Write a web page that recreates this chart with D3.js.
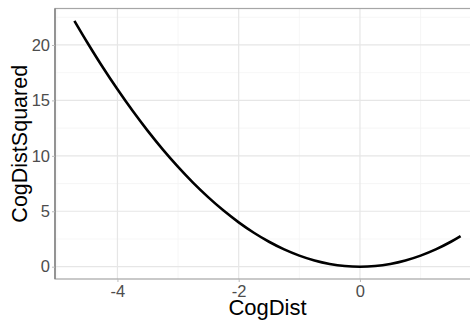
<!DOCTYPE html>
<html>
<head>
<meta charset="utf-8">
<script src="https://cdn.jsdelivr.net/npm/d3@7"></script>
<style>
  body { margin: 0; background: #fff; }
  svg { display: block; font-family: "Liberation Sans", Arial, sans-serif; }
</style>
</head>
<body>
<script>
// values
const cogDist = [-4.71, -4.5, -4.25, -4, -3.75, -3.5, -3.25, -3, -2.75, -2.5, -2.25, -2,
  -1.75, -1.5, -1.25, -1, -0.75, -0.5, -0.25, 0, 0.25, 0.5, 0.75, 1, 1.25, 1.5, 1.66];
const cogDistSquared = [22.18, 20.25, 18.06, 16, 14.06, 12.25, 10.56, 9, 7.56, 6.25, 5.06, 4,
  3.06, 2.25, 1.56, 1, 0.56, 0.25, 0.06, 0, 0.06, 0.25, 0.56, 1, 1.56, 2.25, 2.76];
const xTicks = [-4, -2, 0];
const xMinor = [-5, -3, -1, 1];
const yTicks = [0, 5, 10, 15, 20];
const yMinor = [2.5, 7.5, 12.5, 17.5, 22.5];

const W = 470, H = 320,
      panel = {left: 55, right: 480, top: 8.5, bottom: 279};

const svg = d3.select("body").append("svg")
  .attr("width", W)
  .attr("height", H);

const x = d3.scaleLinear().domain([-5.03, 1.98]).range([panel.left, panel.right]),
      y = d3.scaleLinear().domain([-1.11, 23.29]).range([panel.bottom, panel.top]);

svg.append("defs").append("clipPath").attr("id", "clip")
  .append("rect")
  .attr("x", panel.left).attr("y", panel.top)
  .attr("width", panel.right - panel.left).attr("height", panel.bottom - panel.top);

const grid = svg.append("g");

grid.selectAll(".xminor").data(xMinor).enter().append("line")
  .attr("x1", d => x(d)).attr("x2", d => x(d))
  .attr("y1", panel.top).attr("y2", panel.bottom)
  .attr("stroke", "#f4f4f4").attr("stroke-width", 0.8);

grid.selectAll(".yminor").data(yMinor).enter().append("line")
  .attr("x1", panel.left).attr("x2", panel.right)
  .attr("y1", d => y(d)).attr("y2", d => y(d))
  .attr("stroke", "#f4f4f4").attr("stroke-width", 0.8);

grid.selectAll(".xmajor").data(xTicks).enter().append("line")
  .attr("x1", d => x(d)).attr("x2", d => x(d))
  .attr("y1", panel.top).attr("y2", panel.bottom)
  .attr("stroke", "#e6e6e6").attr("stroke-width", 1.2);

grid.selectAll(".ymajor").data(yTicks).enter().append("line")
  .attr("x1", panel.left).attr("x2", panel.right)
  .attr("y1", d => y(d)).attr("y2", d => y(d))
  .attr("stroke", "#e6e6e6").attr("stroke-width", 1.2);

// curve
const line = d3.line()
  .x((d, i) => x(cogDist[i]))
  .y(d => y(d))
  .curve(d3.curveCatmullRom);

svg.append("path")
  .datum(cogDistSquared)
  .attr("clip-path", "url(#clip)")
  .attr("fill", "none")
  .attr("stroke", "#000")
  .attr("stroke-width", 2.6)
  .attr("d", line);

// panel border
svg.append("rect")
  .attr("x", panel.left).attr("y", panel.top)
  .attr("width", panel.right - panel.left).attr("height", panel.bottom - panel.top)
  .attr("fill", "none").attr("stroke", "#a6a6a6").attr("stroke-width", 1.2);

svg.append("line")
  .attr("x1", panel.left).attr("x2", panel.left)
  .attr("y1", panel.top).attr("y2", panel.bottom)
  .attr("stroke", "#777").attr("stroke-width", 1.3);

// axes
const fmt = d => String(d);
const xAxis = d3.axisBottom(x).tickValues(xTicks).tickFormat(fmt)
  .tickSizeInner(3).tickSizeOuter(0).tickPadding(3);
const yAxis = d3.axisLeft(y).tickValues(yTicks).tickFormat(fmt)
  .tickSizeInner(3).tickSizeOuter(0).tickPadding(2);

svg.append("g")
  .attr("transform", "translate(0," + panel.bottom + ")")
  .call(xAxis)
  .call(g => g.select(".domain").remove())
  .call(g => g.selectAll("line").attr("stroke", "#bbb"))
  .call(g => g.selectAll("text").attr("fill", "#4d4d4d").attr("font-size", 16.5)
    .attr("font-family", "Liberation Sans, Arial, sans-serif"));

svg.append("g")
  .attr("transform", "translate(" + panel.left + ",0)")
  .call(yAxis)
  .call(g => g.select(".domain").remove())
  .call(g => g.selectAll("line").attr("stroke", "#bbb"))
  .call(g => g.selectAll("text").attr("fill", "#4d4d4d").attr("font-size", 16.5)
    .attr("font-family", "Liberation Sans, Arial, sans-serif"));

// titles
svg.append("text")
  .attr("x", (panel.left + panel.right) / 2)
  .attr("y", 315)
  .attr("text-anchor", "middle")
  .attr("font-size", 22)
  .attr("fill", "#000")
  .text("CogDist");

svg.append("text")
  .attr("transform", "translate(27," + (panel.top + panel.bottom) / 2 + ") rotate(-90)")
  .attr("text-anchor", "middle")
  .attr("font-size", 21.5)
  .attr("fill", "#000")
  .text("CogDistSquared");
</script>
</body>
</html>
